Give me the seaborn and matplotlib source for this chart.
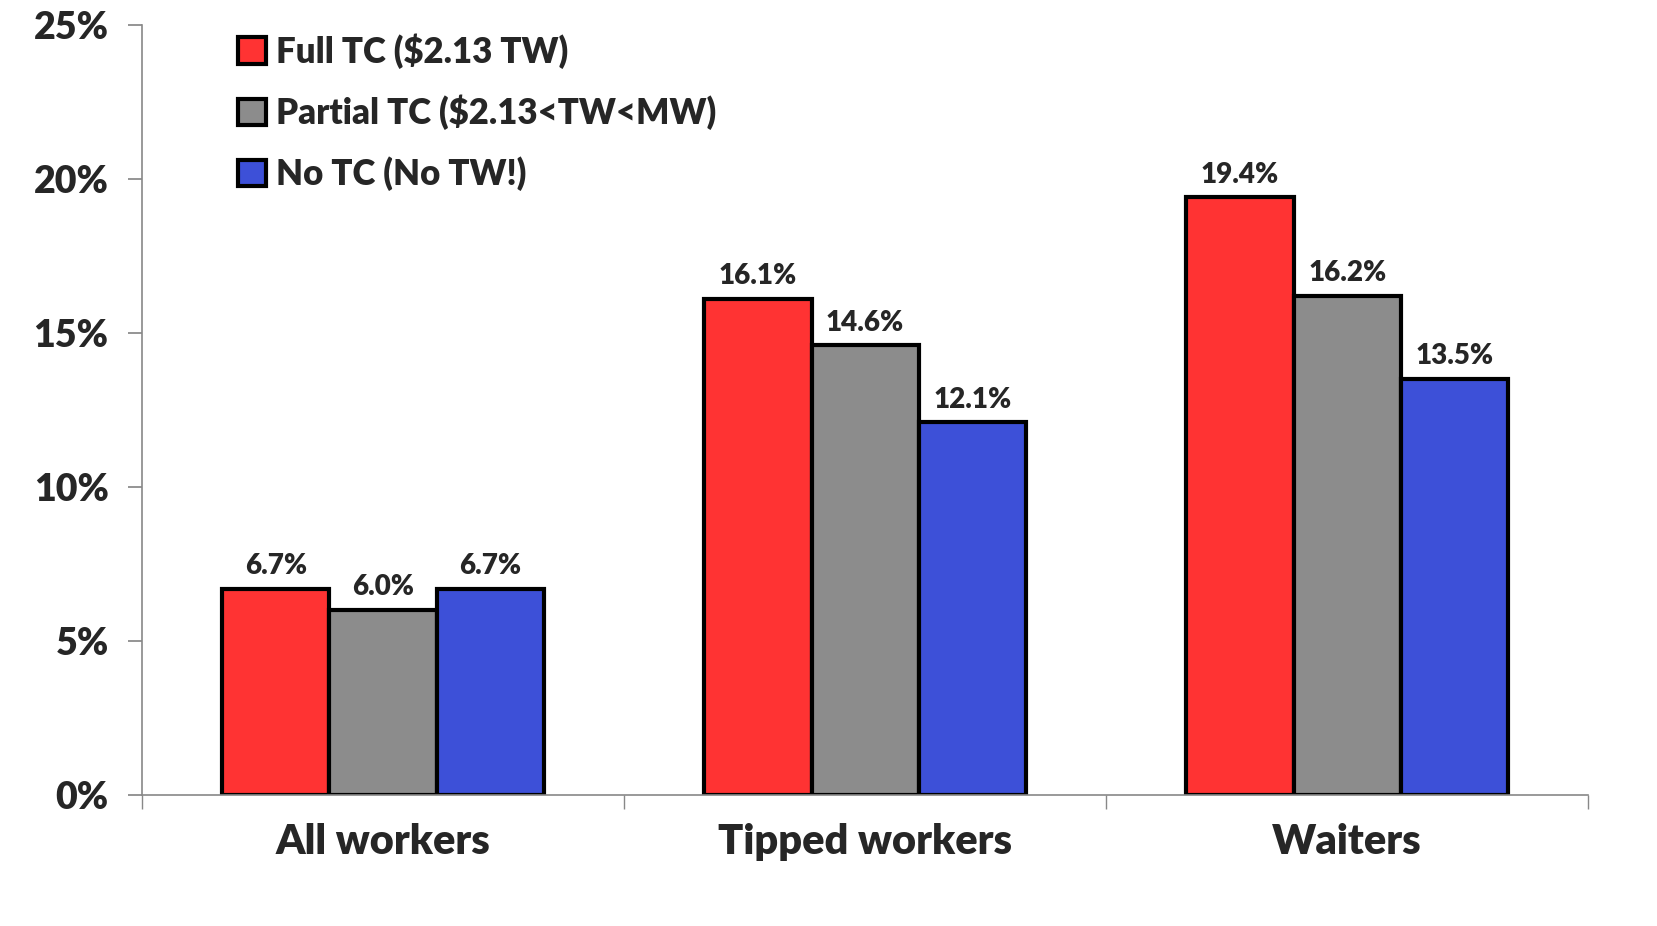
import matplotlib
matplotlib.use("Agg")
import matplotlib.pyplot as plt
import seaborn as sns
import pandas as pd

categories = ["All workers", "Tipped workers", "Waiters"]
series = ["Full TC ($2.13 TW)", "Partial TC ($2.13<TW<MW)", "No TC (No TW!)"]
full_tc = [6.7, 16.1, 19.4]
partial_tc = [6.0, 14.6, 16.2]
no_tc = [6.7, 12.1, 13.5]
colors = ["#FF3333", "#8C8C8C", "#3D50D8"]

rows = []
for s, vals in zip(series, [full_tc, partial_tc, no_tc]):
    for c, v in zip(categories, vals):
        rows.append({"cat": c, "series": s, "val": v})
df = pd.DataFrame(rows)

sns.set_theme(style="white")
plt.rcParams['font.family'] = ['Lato', 'DejaVu Sans']
plt.rcParams['font.weight'] = 'bold'

fig = plt.figure(figsize=(16.58, 9.26), dpi=100)
ax = fig.add_axes([0.0856, 0.1415, 0.8724, 0.8315])
sns.barplot(data=df, x="cat", y="val", hue="series", palette=colors,
            edgecolor="black", linewidth=3, width=0.667, ax=ax, saturation=1)

for cont in ax.containers:
    ax.bar_label(cont, labels=[f"{v:.1f}%" for v in cont.datavalues],
                 padding=7, fontsize=20, fontweight='heavy')

ax.set_ylim(0, 25)
ax.set_xlim(-0.5, 2.5)
ax.set_yticks([0, 5, 10, 15, 20, 25])
ax.set_yticklabels([f"{t}%" for t in [0, 5, 10, 15, 20, 25]], fontsize=27, fontweight='heavy')
ax.set_xticks([0, 1, 2])
ax.set_xticklabels(categories, fontsize=30, fontweight='heavy')
ax.set_xticks([-0.5, 0.5, 1.5, 2.5], minor=True)
ax.tick_params(axis='x', which='major', length=0, pad=20)
ax.tick_params(axis='x', which='minor', length=10, color='#888888', direction='out', bottom=True)
ax.tick_params(axis='y', length=10, color='#888888', direction='out', left=True, pad=14)
ax.set_xlabel("")
ax.set_ylabel("")
for sp in ["top", "right"]:
    ax.spines[sp].set_visible(False)
for sp in ["left", "bottom"]:
    ax.spines[sp].set_color("#888888")
    ax.spines[sp].set_linewidth(1.2)

leg = ax.legend(loc="upper left", bbox_to_anchor=(0.045, 1.03), frameon=False,
                fontsize=25, handlelength=0.8, handleheight=0.8, handletextpad=0.3,
                labelspacing=0.75)
for h in leg.legend_handles:
    h.set_edgecolor("black")
    h.set_linewidth(3)
for t in leg.get_texts():
    t.set_fontweight('heavy')

fig.savefig("out.png", dpi=100)
